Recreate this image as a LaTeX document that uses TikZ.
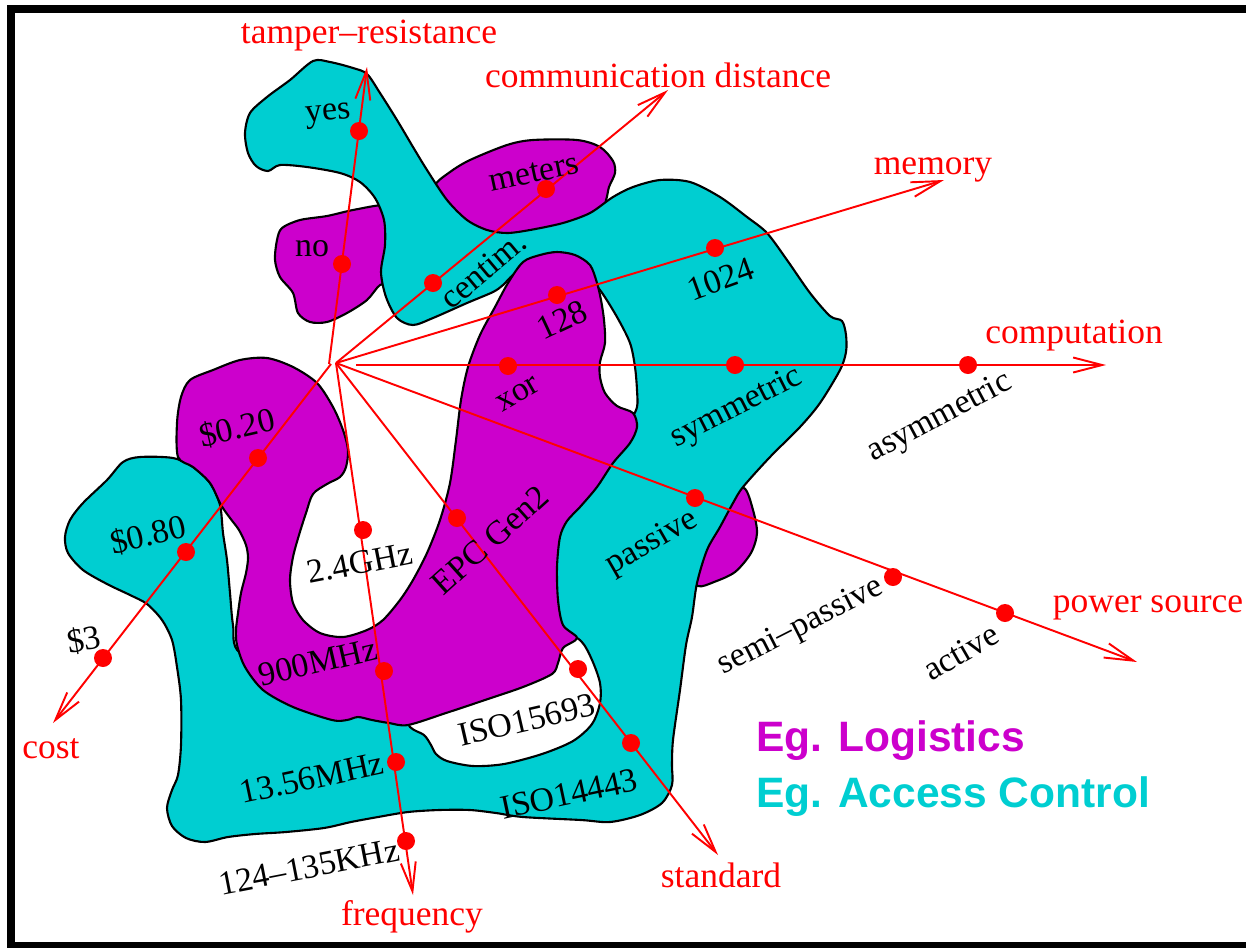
\documentclass[tikz,border=0pt]{standalone}
\usepackage{fontspec}
\setmainfont{Liberation Serif}
\newfontfamily\legendfont{Liberation Sans}
\usetikzlibrary{arrows.meta}
\definecolor{logiMag}{RGB}{204,0,204}
\definecolor{accCyan}{RGB}{0,206,209}

\begin{document}
\begin{tikzpicture}[
  x=0.02cm, y=-0.02cm,
  >={Straight Barb[length=0.58cm,width=0.3cm]},
  logistics/.style={draw=black,line width=1.2pt,fill=logiMag},
  access/.style={draw=black,line width=1.2pt,fill=accCyan},
  axis/.style={red,line width=1.1pt},
  dot/.style={circle,fill=red,inner sep=0pt,minimum size=0.36cm},
  axlabel/.style={text=red,anchor=base,inner sep=0pt,font=\fontsize{20.2}{24}\selectfont},
  val/.style={inner sep=0pt,font=\fontsize{19.3}{23}\selectfont},
  legend/.style={anchor=base west,inner sep=0pt,font=\legendfont\bfseries\fontsize{24.2}{29}\selectfont}
]
  \useasboundingbox (0,0) rectangle (1246,947);
  \draw[line width=0.16cm] (1260,9) -- (11,9) -- (11,946) -- (1260,946);

  % blobs lying under the access-control region
  \draw[logistics] plot[smooth cycle,tension=0.5] coordinates {
    (277,240) (282,228) (300,220) (327,216) (353,210) (385,205) (398,213)
    (400,250) (395,280) (380,285) (367,300) (347,313) (327,322) (310,322)
    (298,313) (293,293) (280,277) (275,260)};
  \draw[logistics] plot[smooth cycle,tension=0.5] coordinates {
    (445,205) (435,186) (450,172) (470,160) (507,145) (533,140) (577,140)
    (600,147) (613,161) (615,173) (609,187) (606,200) (598,215) (540,240)
    (480,235)};
  \draw[logistics] plot[smooth cycle,tension=0.5] coordinates {
    (725,497) (744,488) (753,510) (757,533) (751,553) (735,572) (714,582)
    (698,586) (688,570) (700,530)};

  % access control
  \draw[access] plot[smooth cycle,tension=0.5] coordinates {
    (248,153) (245,133) (250,113) (267,97) (290,80) (313,61) (330,62)
    (353,68) (367,74) (380,93) (397,120) (413,147) (427,170) (447,200)
    (467,220) (487,230) (507,233) (530,230) (563,223) (590,213) (613,197)
    (633,187) (660,180) (690,182) (720,197) (747,217) (767,233) (787,260)
    (810,293) (830,316) (842,321) (846,335) (846,352) (840,370) (820,403)
    (800,427) (770,457) (743,487) (733,503) (720,527) (707,550) (697,583)
    (692,617) (686,645) (680,690) (673,740) (672,765) (672,785) (662,803)
    (640,815) (610,822) (581,820) (523,817) (496,813) (470,810) (439,810)
    (408,812) (378,817) (351,822) (324,828) (286,832) (255,834) (228,837)
    (205,842) (186,838) (172,826) (167,808) (172,790) (178,775) (181,745)
    (181,700) (177,667) (172,640) (162,620) (147,604) (130,595) (107,584)
    (83,570) (68,553) (65,537) (70,520) (83,503) (107,480) (123,462)
    (140,457) (173,458) (193,467) (210,483) (220,505) (223,533) (227,560)
    (230,593) (233,625) (240,653) (300,680) (395,705) (410,727) (424,735)
    (431,745) (436,754) (447,761) (473,766) (504,764) (542,754) (573,741)
    (592,724) (600,703) (600,683) (592,660) (581,641) (555,622) (540,580)
    (545,530) (570,490) (605,450) (630,420) (637,407) (637,390) (635,367)
    (630,343) (617,317) (600,290) (585,275) (555,265) (527,267) (513,275)
    (503,285) (493,292) (467,303) (433,318) (413,325) (397,318) (386,297)
    (381,272) (385,245) (384,220) (375,198) (360,182) (340,173) (307,167)
    (280,165) (268,171) (256,166)};

  % logistics
  \draw[logistics] plot[smooth cycle,tension=0.5] coordinates {
    (523,262) (540,255) (557,252) (575,255) (590,265) (597,283) (601,300)
    (604,320) (605,343) (600,362) (600,377) (605,393) (617,406) (633,413)
    (637,427) (630,443) (613,463) (597,487) (580,507) (567,521) (560,537)
    (557,567) (558,600) (563,625) (577,638) (563,648) (558,663) (552,674)
    (523,687) (485,700) (446,713) (408,725) (389,723) (372,720) (358,717)
    (347,720) (332,720) (293,707) (263,690) (245,667) (237,645) (236,630)
    (238,613) (241,593) (246,573) (248,558) (246,545) (239,530) (230,518)
    (221,505) (210,483) (193,467) (178,457) (177,423) (181,397) (190,380)
    (213,370) (240,360) (267,358) (293,367) (317,383) (333,407) (343,430)
    (348,450) (346,467) (340,477) (327,484) (313,494) (306,513) (299,535)
    (293,557) (290,580) (293,603) (303,620) (320,633) (343,637) (367,630)
    (383,620) (400,600) (413,580) (427,553) (440,520) (450,483) (456,440)
    (461,400) (468,367) (480,335) (495,307) (508,283)};

  % axes
  \coordinate (origin) at (336,363);
  \coordinate (tamperFoot) at (329,364);
  \coordinate (costFoot) at (331,364);
  \coordinate (compFoot) at (356,365);
  \coordinate (tamperTip) at (367,67);
  \coordinate (commTip) at (668,90);
  \coordinate (memTip) at (944,180);
  \coordinate (compTip) at (1106,365);
  \coordinate (powerTip) at (1137,662);
  \coordinate (stdTip) at (718,855);
  \coordinate (freqTip) at (413,895);
  \coordinate (costTip) at (53,723);

  \draw[axis,->] (tamperFoot) -- (tamperTip);
  \draw[axis,->] (origin) -- (commTip);
  \draw[axis,->] (origin) -- (memTip);
  \draw[axis,->] (compFoot) -- (compTip);
  \draw[axis,->] (origin) -- (powerTip);
  \draw[axis,->] (origin) -- (stdTip);
  \draw[axis,->] (origin) -- (freqTip);
  \draw[axis,->] (costFoot) -- (costTip);

  \node[dot] (dotYes) at (359,131) {};
  \node[dot] (dotNo) at (342,264) {};
  \node[dot] (dotMeters) at (546,189) {};
  \node[dot] (dotCentim) at (433,283) {};
  \node[dot] (dot128) at (557,295) {};
  \node[dot] (dot1024) at (715,248) {};
  \node[dot] (dotXor) at (508,366) {};
  \node[dot] (dotSym) at (735,365) {};
  \node[dot] (dotAsym) at (968,365) {};
  \node[dot] (dotPassive) at (695,498) {};
  \node[dot] (dotSemi) at (893,577) {};
  \node[dot] (dotActive) at (1005,613) {};
  \node[dot] (dotEpc) at (457,518) {};
  \node[dot] (dotIsoA) at (578,669) {};
  \node[dot] (dotIsoB) at (631,743) {};
  \node[dot] (dotGhz) at (363,530) {};
  \node[dot] (dotUhf) at (384,671) {};
  \node[dot] (dotHf) at (396,762) {};
  \node[dot] (dotLf) at (406,841) {};
  \node[dot] (dotCheap) at (258,458) {};
  \node[dot] (dotMid) at (186,552) {};
  \node[dot] (dotDear) at (103,658) {};

  % axis names
  \node[axlabel] (tamperLab) at (369,43) {tamper--resistance};
  \node[axlabel] (commLab) at (658,87) {communication distance};
  \node[axlabel] (memLab) at (933,174) {memory};
  \node[axlabel] (compLab) at (1074,343) {computation};
  \node[axlabel] (powerLab) at (1148,612) {power source};
  \node[axlabel] (stdLab) at (721,887) {standard};
  \node[axlabel] (freqLab) at (412,925) {frequency};
  \node[axlabel] (costLab) at (51,758) {cost};

  % values
  \node[val,rotate=5] (labYes) at (328,116) {yes};
  \node[val] (labNo) at (312,249) {no};
  \node[val,rotate=12] (labMeters) at (534,173) {meters};
  \node[val,rotate=40] (labCentim) at (483,270) {centim.};
  \node[val,rotate=25] (lab128) at (562,320) {128};
  \node[val,rotate=20] (lab1024) at (721,279) {1024};
  \node[val,rotate=30] (labXor) at (518,394) {xor};
  \node[val,rotate=27] (labSym) at (737,408) {symmetric};
  \node[val,rotate=28] (labAsym) at (940,418) {asymmetric};
  \node[val,rotate=30] (labPassive) at (652,543) {passive};
  \node[val,rotate=27] (labSemi) at (801,627) {semi--passive};
  \node[val,rotate=30] (labActive) at (961,652) {active};
  \node[val,rotate=42] (labEpc) at (490,540) {EPC Gen2};
  \node[val,rotate=13] (labIsoA) at (527,720) {ISO15693};
  \node[val,rotate=12] (labIsoB) at (569,794) {ISO14443};
  \node[val,rotate=11] (labGhz) at (360,563) {2.4GHz};
  \node[val,rotate=13] (labUhf) at (318,662) {900MHz};
  \node[val,rotate=12] (labHf) at (312,778) {13.56MHz};
  \node[val,rotate=11] (labLf) at (309,867) {124--135KHz};
  \node[val,rotate=13] (labCheap) at (237,428) {\$0.20};
  \node[val,rotate=13] (labMid) at (148,535) {\$0.80};
  \node[val,rotate=10] (labDear) at (84,640) {\$3};

  % legend
  \node[legend,text=logiMag] (legLogi) at (756,751) {Eg. Logistics};
  \node[legend,text=accCyan] (legAccess) at (756,807) {Eg. Access Control};
\end{tikzpicture}
\end{document}
